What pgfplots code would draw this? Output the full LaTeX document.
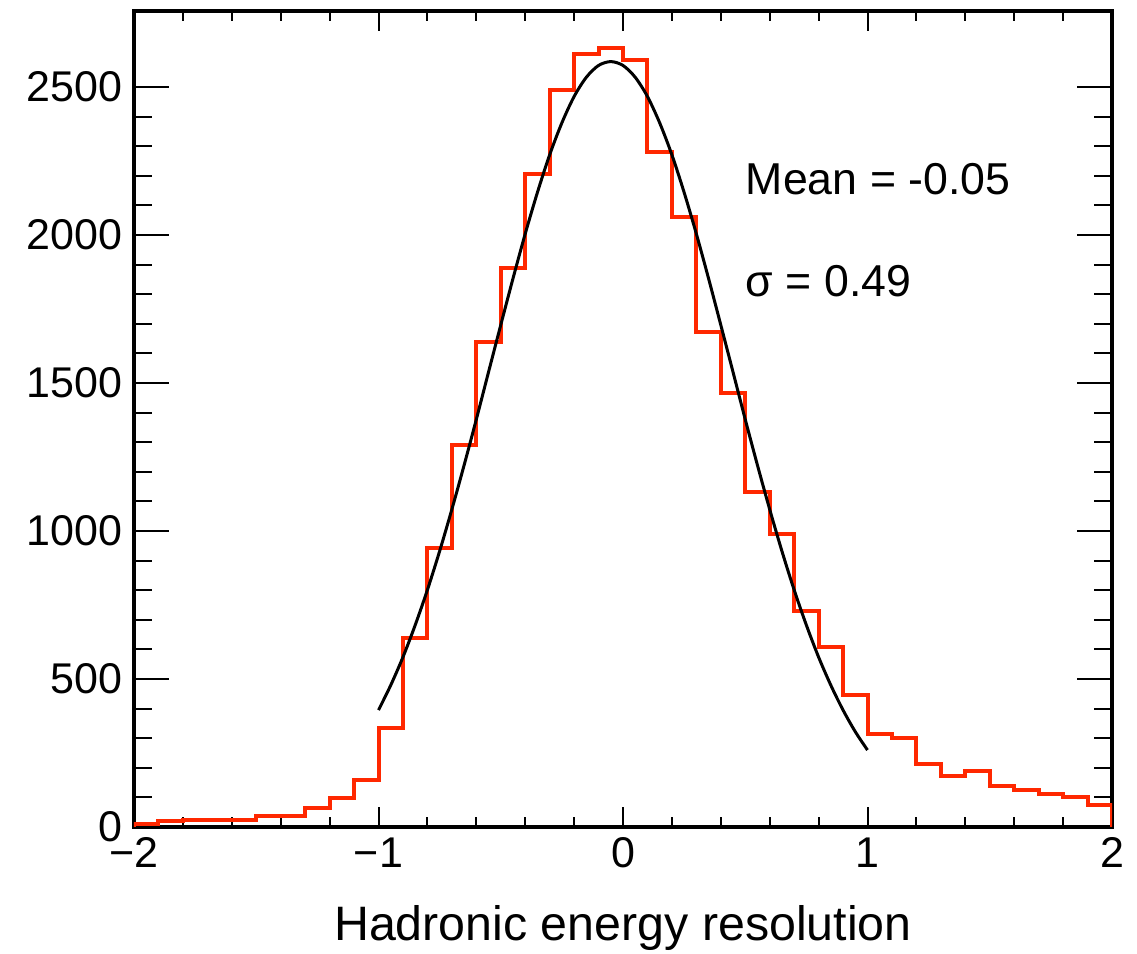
\documentclass[border=0pt]{standalone}
\usepackage{fontspec}
\setmainfont{Liberation Sans}
\usepackage{pgfplots}
\pgfplotsset{compat=1.18}
\definecolor{histred}{RGB}{255,40,0}
\begin{document}
\begin{tikzpicture}
\begin{axis}[
  scale only axis,
  width=293.4pt, height=244.8pt,
  xmin=-2, xmax=2, ymin=0, ymax=2757,
  axis line style={line width=1.2pt},
  xtick={-2,-1,0,1,2},
  xticklabels={−2,−1,0,1,2},
  minor x tick num=4,
  ytick={0,500,1000,1500,2000,2500},
  minor y tick num=4,
  tick align=inside,
  tick style={line width=0.6pt, black},
  xtick style={/pgfplots/major tick length=6pt, /pgfplots/minor tick length=3pt},
  ytick style={/pgfplots/major tick length=10.4pt, /pgfplots/minor tick length=5.35pt},
  /pgf/number format/assume math mode=true,
  /pgf/number format/1000 sep={},
  xticklabel style={font=\fontsize{12.9}{15}\selectfont, inner sep=0pt, anchor=north, yshift=-3pt},
  yticklabel style={font=\fontsize{12.9}{15}\selectfont, inner sep=0pt, anchor=east, xshift=-3.3pt},
  xlabel={Hadronic energy resolution},
  xlabel style={font=\fontsize{14.5}{17}\selectfont, at={(axis description cs:0.5,0)}, anchor=base, inner sep=0pt, yshift=-33.9pt},
]
\coordinate (sw) at (rel axis cs:0,0);
\coordinate (ne) at (rel axis cs:1,1);
\addplot[const plot mark left, histred, line width=1.2pt] coordinates {
(-2,0) (-2,11) (-1.9,20) (-1.8,25) (-1.7,25) (-1.6,25) (-1.5,38) (-1.4,38)
(-1.3,64) (-1.2,98) (-1.1,160) (-1.0,334) (-0.9,638) (-0.8,942) (-0.7,1289)
(-0.6,1637) (-0.5,1889) (-0.4,2207) (-0.3,2491) (-0.2,2611) (-0.1,2632)
(0.0,2592) (0.1,2282) (0.2,2061) (0.3,1674) (0.4,1466) (0.5,1132) (0.6,991)
(0.7,731) (0.8,607) (0.9,447) (1.0,315) (1.1,301) (1.2,213) (1.3,174)
(1.4,188) (1.5,137) (1.6,126) (1.7,112) (1.8,101) (1.9,75) (2,75) (2,0)
};
\addplot[black, line width=0.9pt, smooth] coordinates {
(-1.00,395) (-0.95,479) (-0.90,574) (-0.85,682) (-0.80,801) (-0.75,932)
(-0.70,1073) (-0.65,1222) (-0.60,1377) (-0.55,1537) (-0.50,1696) (-0.45,1853)
(-0.40,2004) (-0.35,2144) (-0.30,2271) (-0.25,2379) (-0.20,2468) (-0.15,2533)
(-0.10,2573) (-0.05,2586) (0.00,2573) (0.05,2533) (0.10,2468) (0.15,2379)
(0.20,2271) (0.25,2144) (0.30,2004) (0.35,1853) (0.40,1696) (0.45,1537)
(0.50,1377) (0.55,1222) (0.60,1073) (0.65,932) (0.70,801) (0.75,682)
(0.80,574) (0.85,479) (0.90,395) (0.95,322) (1.00,260)
};
\node[anchor=base west, inner sep=0pt, font=\fontsize{13.4}{16}\selectfont] at (axis cs:0.5,2136) {Mean = -0.05};
\node[anchor=base west, inner sep=0pt, font=\fontsize{13.4}{16}\selectfont] at (axis cs:0.5,1791) {σ = 0.49};
\end{axis}
\useasboundingbox ([xshift=-40.2pt,yshift=-37.8pt]sw) rectangle ([xshift=7.5pt,yshift=3.3pt]ne);
\end{tikzpicture}
\end{document}
